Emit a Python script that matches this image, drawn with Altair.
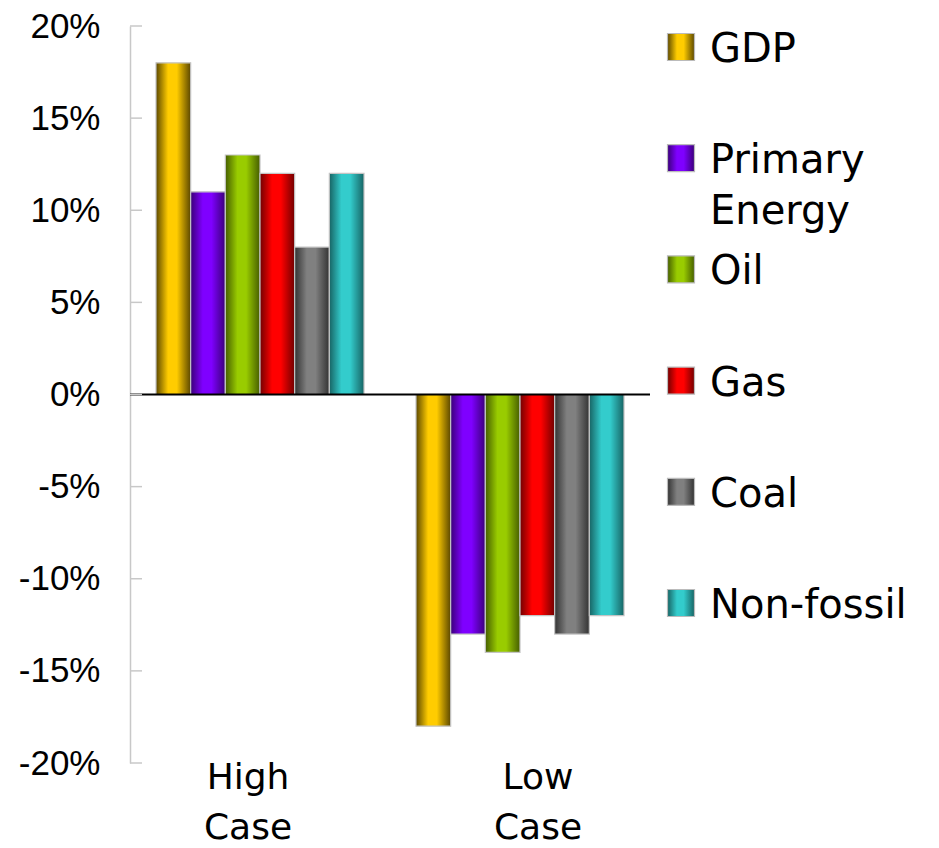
import altair as alt
import pandas as pd

cases = ["High Case", "Low Case"]
series = ["GDP", "Primary Energy", "Oil", "Gas", "Coal", "Non-fossil"]
high_values = [18, 11, 13, 12, 8, 12]
low_values = [-18, -13, -14, -12, -13, -12]
y_ticks = [-20, -15, -10, -5, 0, 5, 10, 15, 20]
light_colors = ["#ffcc00", "#7f00ff", "#99cc00", "#ff0000", "#808080", "#33cccc"]
dark_colors = ["#5c4800", "#3a0078", "#465e00", "#720000", "#333333", "#176464"]

rows = []
for c, vals in zip(cases, [high_values, low_values]):
    for s, v in zip(series, vals):
        rows.append({"case": c, "series": s, "value": v})
df = pd.DataFrame(rows)
legend_df = pd.DataFrame({"series": series})
tick_df = pd.DataFrame({"tick": y_ticks})
zero_df = pd.DataFrame({"z": [0]})


def grad(dark, light):
    return {"gradient": "linear", "x1": 0, "y1": 0, "x2": 1, "y2": 0,
            "stops": [{"offset": 0, "color": dark},
                      {"offset": 0.35, "color": light},
                      {"offset": 0.6, "color": light},
                      {"offset": 1, "color": dark}]}


W, H = 520, 737

x_enc = alt.X(
    "case:N", sort=cases,
    scale=alt.Scale(domain=cases, paddingInner=0.2, paddingOuter=0.1),
    axis=alt.Axis(title=None, labelAngle=0, domain=False, ticks=False, tickSize=0,
                  labelPadding=25, labelFont="DejaVu Sans", labelFontSize=36,
                  labelColor="black", labelExpr="split(datum.label, ' ')",
                  labelLineHeight=50, labelBaseline="alphabetic",
                  labelOffset={"condition": {"test": "datum.value === 'High Case'", "value": -12},
                               "value": 18}))
y_scale = alt.Scale(domain=[-20, 20], nice=False, zero=False)
y_axis = alt.Axis(title=None, values=y_ticks, labelExpr="datum.value + '%'",
                  ticks=False, tickSize=0, grid=False, domainColor="#c8c8c8",
                  domainWidth=1.5, labelFont="Liberation Sans", labelFontSize=35,
                  labelColor="black", labelPadding=30)
xo = alt.XOffset("series:N", sort=series,
                 scale=alt.Scale(domain=series, paddingInner=0, paddingOuter=0))

bar_layers = []
for s, d, l in zip(series, dark_colors, light_colors):
    bar_layers.append(
        alt.Chart(df).transform_filter(alt.datum.series == s)
        .mark_bar(stroke="#c4c4c4", strokeWidth=1.2)
        .encode(x=x_enc, xOffset=xo,
                y=alt.Y("value:Q", scale=y_scale, axis=y_axis),
                fill=alt.value(grad(d, l)))
    )

zero = alt.Chart(zero_df).mark_rule(color="black", strokeWidth=2).encode(
    y=alt.Y("z:Q", scale=y_scale, axis=y_axis))
ticks = alt.Chart(tick_df).mark_rule(color="#c8c8c8", strokeWidth=1.5).encode(
    y=alt.Y("tick:Q", scale=y_scale, axis=y_axis), x=alt.value(0), x2=alt.value(12))

main = alt.layer(*bar_layers, zero, ticks)

legend_y = alt.Y("series:N", sort=series,
                 scale=alt.Scale(type="point", domain=series, range=[21, 577], padding=0),
                 axis=None)
sq_layers = []
for s, d, l in zip(series, dark_colors, light_colors):
    sq_layers.append(
        alt.Chart(legend_df).transform_filter(alt.datum.series == s)
        .mark_square(size=729, stroke="#bbbbbb", strokeWidth=1.2, opacity=1)
        .encode(x=alt.value(551), y=legend_y, fill=alt.value(grad(d, l)))
    )
txt = alt.Chart(legend_df).mark_text(
    align="left", baseline="alphabetic", dy=15, font="DejaVu Sans", fontSize=40,
    lineBreak=" ", lineHeight=51, color="black").encode(
    x=alt.value(580), y=legend_y, text="series:N")
leg = alt.layer(*sq_layers, txt)

chart = alt.layer(main, leg).resolve_scale(y="independent").properties(
    width=W, height=H,
    autosize=alt.AutoSizeParams(type="none"),
    padding={"left": 122, "top": 18, "right": 275, "bottom": 90},
).configure_view(stroke=None)

chart.save("out.html", embed_options={"renderer": "svg", "actions": False})
